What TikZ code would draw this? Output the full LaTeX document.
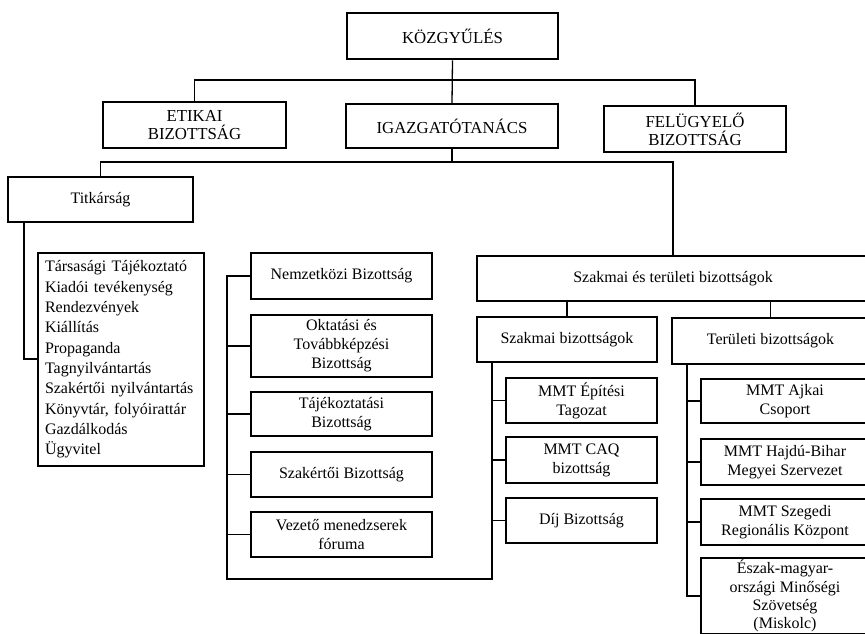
\documentclass[tikz,border=0pt]{standalone}
\usepackage{fontspec}
\setmainfont{Liberation Serif}
\begin{document}
\begin{tikzpicture}[x=1pt,y=-1pt,
  box/.style={draw, line width=1.4pt, rectangle, inner sep=0pt, align=center,
              font=\fontsize{16}{19}\selectfont},
  capbox/.style={box, font=\fontsize{16.8}{18}\selectfont},
  wire/.style={line width=1.3pt}]
\clip (0,0) rectangle (865,634);
\fill[white] (0,0) rectangle (865,634);
% top level
\node[capbox, line width=2.6pt, minimum width=211pt, minimum height=46pt] (kg) at (452.5,36) {KÖZGYŰLÉS};
\node[capbox, minimum width=183pt, minimum height=46pt] (etikai) at (194.5,125) {ETIKAI\\BIZOTTSÁG};
\node[capbox, minimum width=212pt, minimum height=44pt] (igazg) at (452,126) {IGAZGATÓTANÁCS};
\node[capbox, minimum width=182pt, minimum height=46pt] (felugy) at (695,129) {FELÜGYELŐ\\BIZOTTSÁG};
% second level
\node[box, minimum width=185pt, minimum height=45pt] (titk) at (100.5,199.5) {Titkárság};
\node[box, minimum width=166pt, minimum height=213pt, inner xsep=7pt, text width=152pt, align=left,
      font=\fontsize{16}{20.3}\selectfont] (list) at (121,359.5)
  {Társasági Tájékoztató\\Kiadói tevékenység\\Rendezvények\\Kiállítás\\Propaganda\\Tagnyilvántartás\\Szakértői nyilvántartás\\Könyvtár, folyóirattár\\Gazdálkodás\\Ügyvitel};
% left committee column
\node[box, minimum width=181pt, minimum height=46pt] (nemz) at (341.5,276) {Nemzetközi Bizottság};
\node[box, minimum width=181pt, minimum height=62pt] (okt) at (341.5,346) {Oktatási és\\Továbbképzési\\Bizottság};
\node[box, minimum width=181pt, minimum height=44pt] (taj) at (341.5,414) {Tájékoztatási\\Bizottság};
\node[box, minimum width=181pt, minimum height=45pt] (szakert) at (341.5,474.5) {Szakértői Bizottság};
\node[box, minimum width=181pt, minimum height=45pt] (vezeto) at (341.5,534.5) {Vezető menedzserek\\fóruma};
% right part
\node[box, minimum width=392pt, minimum height=45pt] (szt) at (673,278.5) {Szakmai és területi bizottságok};
\node[box, minimum width=180pt, minimum height=45pt] (szb) at (567,339.5) {Szakmai bizottságok};
\node[box, minimum width=197pt, minimum height=46pt] (tb) at (770.5,341) {Területi bizottságok};
\node[box, minimum width=151pt, minimum height=45pt] (ept) at (581.5,400.5) {MMT Építési\\Tagozat};
\node[box, minimum width=151pt, minimum height=46pt] (caq) at (581.5,460) {MMT CAQ\\bizottság};
\node[box, minimum width=151pt, minimum height=45pt] (dij) at (581.5,520.5) {Díj Bizottság};
\node[box, minimum width=168pt, minimum height=44pt] (ajkai) at (785,401) {MMT Ajkai\\Csoport};
\node[box, minimum width=168pt, minimum height=46pt] (hajdu) at (785,462) {MMT Hajdú-Bihar\\Megyei Szervezet};
\node[box, minimum width=168pt, minimum height=46pt] (szeg) at (785,522) {MMT Szegedi\\Regionális Központ};
\node[box, minimum width=168pt, minimum height=76pt, font=\fontsize{16}{18.3}\selectfont] (eszak) at (785,596) {Észak-magyar-\\országi Minőségi\\Szövetség\\(Miskolc)};
% helper coordinates
\coordinate (bar1) at (0,80);
\coordinate (bar2) at (0,162);
\coordinate (tk) at (24,359);
\coordinate (lt) at (227,579);
\coordinate (st) at (492,579);
\coordinate (tt) at (687,0);
% connectors
\draw[wire] (kg.south) -- (igazg.north);
\draw[wire] (etikai.north) -- (etikai.north |- bar1) -- (felugy.north |- bar1) -- (felugy.north);
\draw[wire] (igazg.south) -- (igazg.south |- bar2);
\draw[wire] (titk.north) -- (titk.north |- bar2) -- (szt.north |- bar2) -- (szt.north);
\draw[wire] (titk.south -| tk) -- (tk) -- (list.west |- tk);
\draw[wire] (szt.south -| szb.north) -- (szb.north);
\draw[wire] (szt.south -| tb.north) -- (tb.north);
% left column trunk joined to the Szakmai trunk
\draw[wire] (szb.south -| st) -- (st) -- (lt) -- (nemz.west -| lt) -- (nemz.west);
\foreach \n in {okt,taj,szakert,vezeto} \draw[wire] (\n.west -| lt) -- (\n.west);
\foreach \n in {ept,caq,dij} \draw[wire] (\n.west -| st) -- (\n.west);
% Területi trunk
\draw[wire] (tb.south -| tt) -- (eszak.west -| tt) -- (eszak.west);
\foreach \n in {ajkai,hajdu,szeg} \draw[wire] (\n.west -| tt) -- (\n.west);
\end{tikzpicture}
\end{document}
